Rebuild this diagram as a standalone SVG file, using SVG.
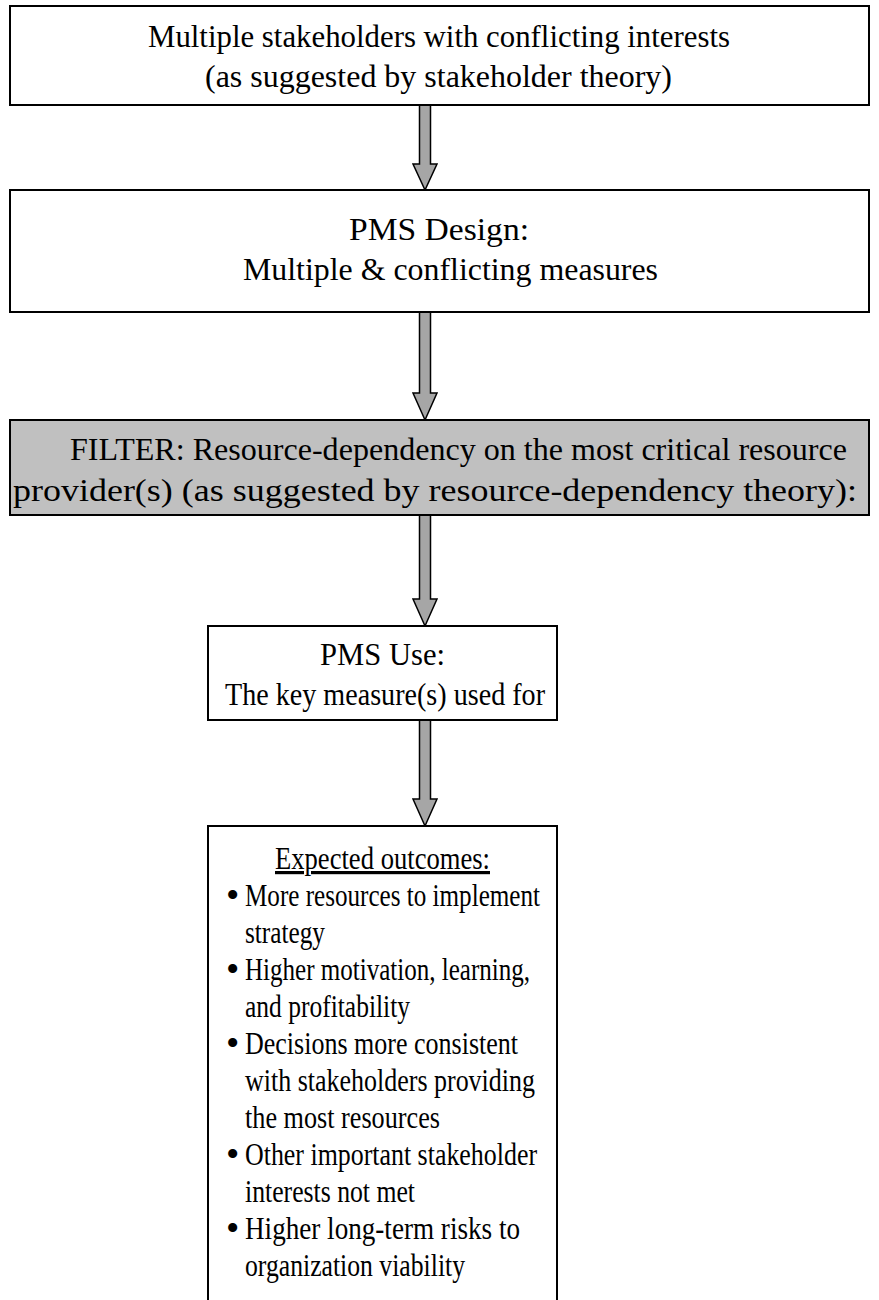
<svg xmlns="http://www.w3.org/2000/svg" width="879" height="1300" viewBox="0 0 879 1300">
<style>
.box{fill:#ffffff;stroke:#000000;stroke-width:2}
.gray{fill:#c0c0c0;stroke:#000000;stroke-width:2}
.arrow{fill:#a6a6a6;stroke:#000000;stroke-width:1.5;stroke-linejoin:miter}
text{font-family:"Liberation Serif","Times New Roman",serif;font-size:32px;fill:#000000}
.b{font-size:38px}
</style>
<rect width="879" height="1300" fill="#ffffff"/>
<g id="connectors">
<polygon class="arrow" points="419.5,105 430.5,105 430.5,164 437,164 425,190 413,164 419.5,164"/>
<polygon class="arrow" points="419.5,312 430.5,312 430.5,393 437,393 425,420 413,393 419.5,393"/>
<polygon class="arrow" points="419.5,515 430.5,515 430.5,599 437,599 425,626 413,599 419.5,599"/>
<polygon class="arrow" points="419.5,720 430.5,720 430.5,799 437,799 425,826 413,799 419.5,799"/>
</g>
<g id="stakeholders">
<rect class="box" x="10" y="6" width="859" height="99"/>
<text x="148" y="47" textLength="582" lengthAdjust="spacingAndGlyphs">Multiple stakeholders with conflicting interests</text>
<text x="205" y="87" textLength="467" lengthAdjust="spacingAndGlyphs">(as suggested by stakeholder theory)</text>
</g>
<g id="pms-design">
<rect class="box" x="10" y="190" width="859" height="122"/>
<text x="349" y="240" textLength="180" lengthAdjust="spacingAndGlyphs">PMS Design:</text>
<text x="243" y="280" textLength="415" lengthAdjust="spacingAndGlyphs">Multiple &amp; conflicting measures</text>
</g>
<g id="filter">
<rect class="gray" x="10" y="420" width="859" height="95"/>
<text x="70" y="460" textLength="777" lengthAdjust="spacingAndGlyphs">FILTER: Resource-dependency on the most critical resource</text>
<text x="13" y="501" textLength="844" lengthAdjust="spacingAndGlyphs">provider(s) (as suggested by resource-dependency theory):</text>
</g>
<g id="pms-use">
<rect class="box" x="208" y="626" width="349" height="94"/>
<text x="320" y="665" textLength="125" lengthAdjust="spacingAndGlyphs">PMS Use:</text>
<text x="225" y="705" textLength="320" lengthAdjust="spacingAndGlyphs">The key measure(s) used for</text>
</g>
<g id="outcomes">
<rect class="box" x="208" y="826" width="349" height="520"/>
<text x="275" y="869" textLength="215" lengthAdjust="spacingAndGlyphs" text-decoration="underline">Expected outcomes:</text>
<text class="b" x="226" y="908">•</text><text x="245" y="906" textLength="295" lengthAdjust="spacingAndGlyphs">More resources to implement</text>
<text x="245" y="943" textLength="80" lengthAdjust="spacingAndGlyphs">strategy</text>
<text class="b" x="226" y="982">•</text><text x="245" y="980" textLength="285" lengthAdjust="spacingAndGlyphs">Higher motivation, learning,</text>
<text x="245" y="1017" textLength="165" lengthAdjust="spacingAndGlyphs">and profitability</text>
<text class="b" x="226" y="1056">•</text><text x="245" y="1054" textLength="273" lengthAdjust="spacingAndGlyphs">Decisions more consistent</text>
<text x="245" y="1091" textLength="290" lengthAdjust="spacingAndGlyphs">with stakeholders providing</text>
<text x="245" y="1128" textLength="195" lengthAdjust="spacingAndGlyphs">the most resources</text>
<text class="b" x="226" y="1167">•</text><text x="245" y="1165" textLength="292" lengthAdjust="spacingAndGlyphs">Other important stakeholder</text>
<text x="245" y="1202" textLength="170" lengthAdjust="spacingAndGlyphs">interests not met</text>
<text class="b" x="226" y="1241">•</text><text x="245" y="1239" textLength="275" lengthAdjust="spacingAndGlyphs">Higher long-term risks to</text>
<text x="245" y="1276" textLength="220" lengthAdjust="spacingAndGlyphs">organization viability</text>
</g>
</svg>
